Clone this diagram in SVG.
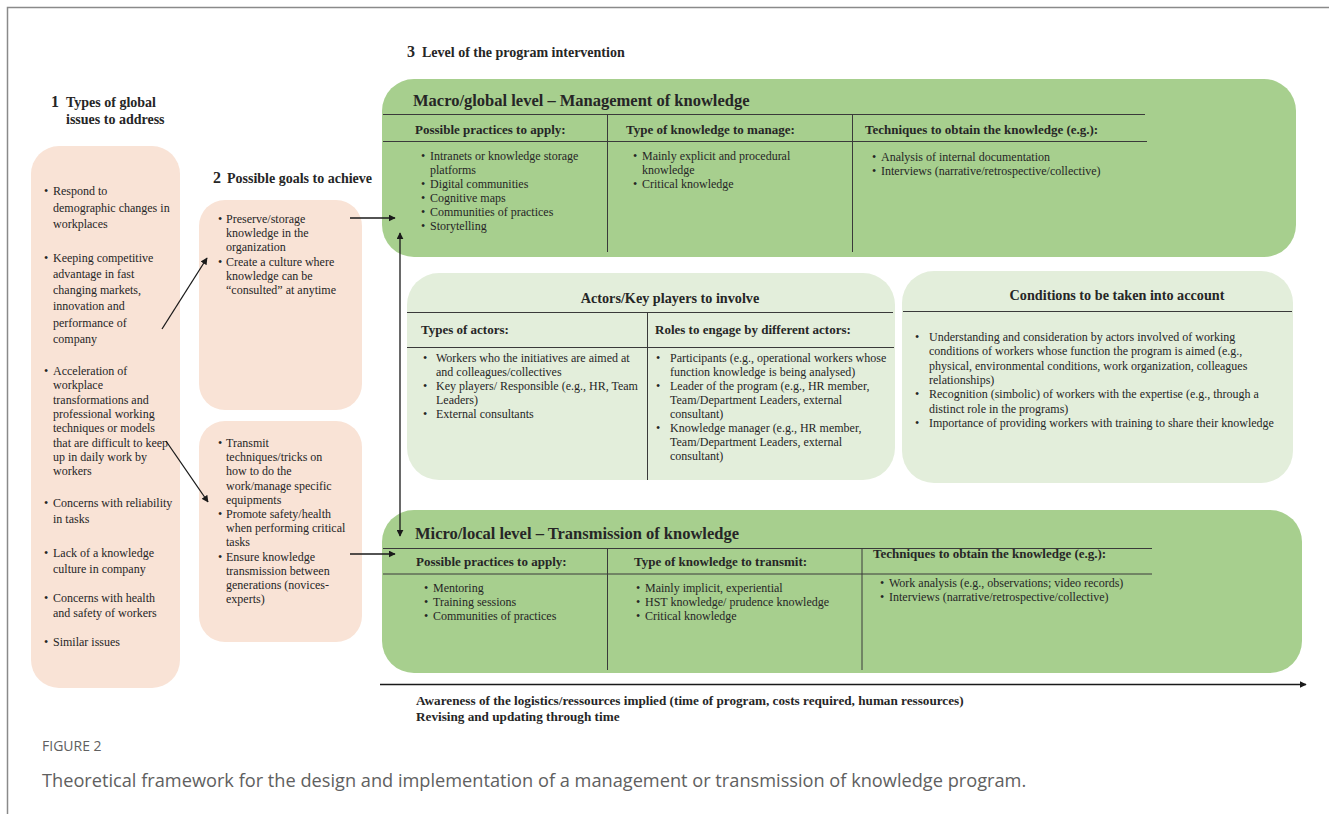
<svg xmlns="http://www.w3.org/2000/svg" width="1329" height="814" viewBox="0 0 1329 814">
  <style>
    .serif { font-family: "Liberation Serif", "Times New Roman", serif; fill: #262626; }
    .b12 { font-size: 12px; }
    .hd { font-size: 13px; font-weight: bold; }
    .sub { font-size: 14.2px; font-weight: bold; }
    .ttl { font-size: 16.5px; font-weight: bold; }
    .sec { font-size: 14px; font-weight: bold; }
    .num { font-size: 16px; font-weight: bold; }
    .note { font-size: 13.2px; font-weight: bold; }
    .peach { fill: #f9e3d6; }
    .green { fill: #a7cf8e; }
    .pale { fill: #e3eedb; }
    .rule { stroke: #3a3a3a; stroke-width: 1; fill: none; }
    .conn { stroke: #1a1a1a; stroke-width: 1.3; fill: none; }
    .cap { font-family: "Open Sans", "Noto Sans", sans-serif; fill: #606060; }
  </style>
  <defs>
    <marker id="arr" viewBox="0 0 10 10" refX="9" refY="5" markerWidth="7" markerHeight="7" orient="auto-start-reverse" markerUnits="userSpaceOnUse">
      <path d="M0,0 L10,5 L0,10 z" fill="#1a1a1a"/>
    </marker>
  </defs>

  <rect width="1329" height="814" fill="#ffffff"/>
  <!-- frame -->
  <path d="M7.5,814 V7.5 H1329" fill="none" stroke="#8a8a8a" stroke-width="1.5"/>

  <!-- section headings -->
  <g id="heading-1" class="serif">
    <text x="51" y="107" class="num">1</text>
    <text x="66" y="107" class="sec">Types of global</text>
    <text x="66" y="124" class="sec">issues to address</text>
  </g>
  <g id="heading-2" class="serif">
    <text x="213" y="183" class="num">2</text>
    <text x="227" y="183" class="sec">Possible goals to achieve</text>
  </g>
  <g id="heading-3" class="serif">
    <text x="407" y="57" class="num">3</text>
    <text x="422" y="57" class="sec">Level of the program intervention</text>
  </g>

  <!-- global issues -->
  <g id="issues" class="serif b12">
    <rect x="31" y="146" width="149" height="542" rx="28" class="peach"/>
    <text x="44" y="195">•</text><text x="53" y="195">Respond to</text>
    <text x="53" y="212">demographic changes in</text>
    <text x="53" y="228">workplaces</text>
    <text x="44" y="262">•</text><text x="53" y="262">Keeping competitive</text>
    <text x="53" y="278">advantage in fast</text>
    <text x="53" y="294">changing markets,</text>
    <text x="53" y="310">innovation and</text>
    <text x="53" y="327">performance of</text>
    <text x="53" y="343">company</text>
    <text x="44" y="375">•</text><text x="53" y="375">Acceleration of</text>
    <text x="53" y="389">workplace</text>
    <text x="53" y="404">transformations and</text>
    <text x="53" y="418">professional working</text>
    <text x="53" y="432">techniques or models</text>
    <text x="53" y="447">that are difficult to keep</text>
    <text x="53" y="461">up in daily work  by</text>
    <text x="53" y="475">workers</text>
    <text x="44" y="507">•</text><text x="53" y="507">Concerns with reliability</text>
    <text x="53" y="523">in tasks</text>
    <text x="44" y="557">•</text><text x="53" y="557">Lack of a knowledge</text>
    <text x="53" y="573">culture in company</text>
    <text x="44" y="602">•</text><text x="53" y="602">Concerns with health</text>
    <text x="53" y="617">and safety of workers</text>
    <text x="44" y="646">•</text><text x="53" y="646">Similar issues</text>
  </g>

  <!-- goals: management -->
  <g id="goal-manage" class="serif b12">
    <rect x="199" y="200" width="163" height="210" rx="26" class="peach"/>
    <text x="218" y="223">•</text><text x="226" y="223">Preserve/storage</text>
    <text x="226" y="237.2">knowledge in the</text>
    <text x="226" y="251.4">organization</text>
    <text x="218" y="265.6">•</text><text x="226" y="265.6">Create a culture where</text>
    <text x="226" y="279.8">knowledge can be</text>
    <text x="226" y="294">“consulted” at anytime</text>
  </g>

  <!-- goals: transmission -->
  <g id="goal-transmit" class="serif b12">
    <rect x="199" y="421" width="163" height="221" rx="26" class="peach"/>
    <text x="218" y="447">•</text><text x="226" y="447">Transmit</text>
    <text x="226" y="461.2">techniques/tricks on</text>
    <text x="226" y="475.4">how to do the</text>
    <text x="226" y="489.6">work/manage specific</text>
    <text x="226" y="503.8">equipments</text>
    <text x="218" y="518">•</text><text x="226" y="518">Promote safety/health</text>
    <text x="226" y="532.2">when performing critical</text>
    <text x="226" y="546.4">tasks</text>
    <text x="218" y="560.6">•</text><text x="226" y="560.6">Ensure knowledge</text>
    <text x="226" y="574.8">transmission between</text>
    <text x="226" y="589">generations (novices-</text>
    <text x="226" y="603.2">experts)</text>
  </g>

  <!-- macro level -->
  <g id="macro" class="serif b12">
    <rect x="382" y="79" width="914" height="178" rx="32" class="green"/>
    <text x="413" y="106" class="ttl">Macro/global level – Management of knowledge</text>
    <path d="M383,114.5 H1145 M383,141.5 H1147 M607.5,114.5 V252 M852.5,114.5 V252" class="rule"/>
    <text x="415" y="134" class="hd">Possible practices to apply:</text>
    <text x="626" y="134" class="hd">Type of knowledge to manage:</text>
    <text x="865" y="134" class="hd">Techniques to obtain the knowledge (e.g.):</text>
    <text x="421" y="160">•</text><text x="430" y="160">Intranets or knowledge storage</text>
    <text x="430" y="174">platforms</text>
    <text x="421" y="188">•</text><text x="430" y="188">Digital communities</text>
    <text x="421" y="202">•</text><text x="430" y="202">Cognitive maps</text>
    <text x="421" y="216">•</text><text x="430" y="216">Communities of practices</text>
    <text x="421" y="230">•</text><text x="430" y="230">Storytelling</text>
    <text x="633" y="160">•</text><text x="642" y="160">Mainly explicit and procedural</text>
    <text x="642" y="174">knowledge</text>
    <text x="633" y="188">•</text><text x="642" y="188">Critical knowledge</text>
    <text x="872" y="161">•</text><text x="881" y="161">Analysis  of internal documentation</text>
    <text x="872" y="175">•</text><text x="881" y="175">Interviews (narrative/retrospective/collective)</text>
  </g>

  <!-- actors -->
  <g id="actors" class="serif b12">
    <rect x="407" y="273" width="488" height="207" rx="32" class="pale"/>
    <text x="670" y="303" class="sub" text-anchor="middle">Actors/Key players to involve</text>
    <path d="M407,312.5 H893 M407,347.5 H894 M647.5,313 V480" class="rule"/>
    <text x="421" y="334" class="hd">Types of actors:</text>
    <text x="655" y="334" class="hd">Roles to engage by different actors:</text>
    <text x="423" y="362">•</text><text x="436" y="362">Workers who the initiatives are aimed at</text>
    <text x="436" y="376">and colleagues/collectives</text>
    <text x="423" y="390">•</text><text x="436" y="390">Key players/ Responsible (e.g., HR, Team</text>
    <text x="436" y="404">Leaders)</text>
    <text x="423" y="418">•</text><text x="436" y="418">External consultants</text>
    <text x="656" y="362">•</text><text x="670" y="362">Participants (e.g., operational workers whose</text>
    <text x="670" y="376">function knowledge is being analysed)</text>
    <text x="656" y="390">•</text><text x="670" y="390">Leader of the program (e.g., HR member,</text>
    <text x="670" y="404">Team/Department  Leaders,  external</text>
    <text x="670" y="418">consultant)</text>
    <text x="656" y="432">•</text><text x="670" y="432">Knowledge manager (e.g., HR member,</text>
    <text x="670" y="446">Team/Department  Leaders,  external</text>
    <text x="670" y="460">consultant)</text>
  </g>

  <!-- conditions -->
  <g id="conditions" class="serif b12">
    <rect x="902" y="271" width="391" height="212" rx="32" class="pale"/>
    <text x="1117" y="300" class="sub" text-anchor="middle">Conditions to be taken into account</text>
    <path d="M903,311.5 H1292" class="rule"/>
    <text x="915" y="341">•</text><text x="929" y="341">Understanding and consideration by actors involved of working</text>
    <text x="929" y="355.3">conditions of workers whose function the program is aimed (e.g.,</text>
    <text x="929" y="369.6">physical,  environmental conditions, work organization, colleagues</text>
    <text x="929" y="383.9">relationships)</text>
    <text x="915" y="398.2">•</text><text x="929" y="398.2">Recognition (simbolic) of workers with the expertise (e.g., through a</text>
    <text x="929" y="412.5">distinct role in the programs)</text>
    <text x="915" y="426.8">•</text><text x="929" y="426.8">Importance  of providing workers with training to share their knowledge</text>
  </g>

  <!-- micro level -->
  <g id="micro" class="serif b12">
    <rect x="382" y="510" width="920" height="163" rx="32" class="green"/>
    <text x="415" y="539" class="ttl">Micro/local level – Transmission  of knowledge</text>
    <path d="M383,548.5 H1152 M383,574 H1152 M607.5,548.5 V670 M862,548.5 V670" class="rule"/>
    <text x="416" y="566" class="hd">Possible practices to apply:</text>
    <text x="634" y="566" class="hd">Type of knowledge to transmit:</text>
    <text x="873" y="558" class="hd">Techniques to obtain the knowledge (e.g.):</text>
    <text x="424" y="592">•</text><text x="433" y="592">Mentoring</text>
    <text x="424" y="606">•</text><text x="433" y="606">Training sessions</text>
    <text x="424" y="620">•</text><text x="433" y="620">Communities of practices</text>
    <text x="636" y="592">•</text><text x="645" y="592">Mainly implicit, experiential</text>
    <text x="636" y="606">•</text><text x="645" y="606">HST knowledge/ prudence knowledge</text>
    <text x="636" y="620">•</text><text x="645" y="620">Critical knowledge</text>
    <text x="880" y="587">•</text><text x="889" y="587">Work analysis (e.g., observations; video records)</text>
    <text x="880" y="601">•</text><text x="889" y="601">Interviews (narrative/retrospective/collective)</text>
  </g>

  <!-- connectors -->
  <g id="connectors" class="conn">
    <line x1="162" y1="329" x2="207" y2="258" marker-end="url(#arr)"/>
    <line x1="166" y1="441" x2="208" y2="502" marker-end="url(#arr)"/>
    <line x1="350" y1="218" x2="395" y2="218" marker-end="url(#arr)"/>
    <line x1="350" y1="554" x2="395" y2="554" marker-end="url(#arr)"/>
    <line x1="400" y1="233" x2="400" y2="536" marker-start="url(#arr)" marker-end="url(#arr)"/>
    <line x1="380" y1="684.5" x2="1306" y2="684.5" marker-end="url(#arr)"/>
  </g>

  <!-- timeline notes -->
  <g id="timeline-notes" class="serif note">
    <text x="416" y="705">Awareness of the logistics/ressources implied  (time of program, costs required, human ressources)</text>
    <text x="416" y="721">Revising and updating through time</text>
  </g>

  <!-- caption -->
  <g id="caption" class="cap">
    <text x="42" y="751" style="font-size:14px">FIGURE 2</text>
    <text x="42" y="787" style="font-size:18.2px">Theoretical framework for the design and implementation of a management or transmission of knowledge program.</text>
  </g>
</svg>
